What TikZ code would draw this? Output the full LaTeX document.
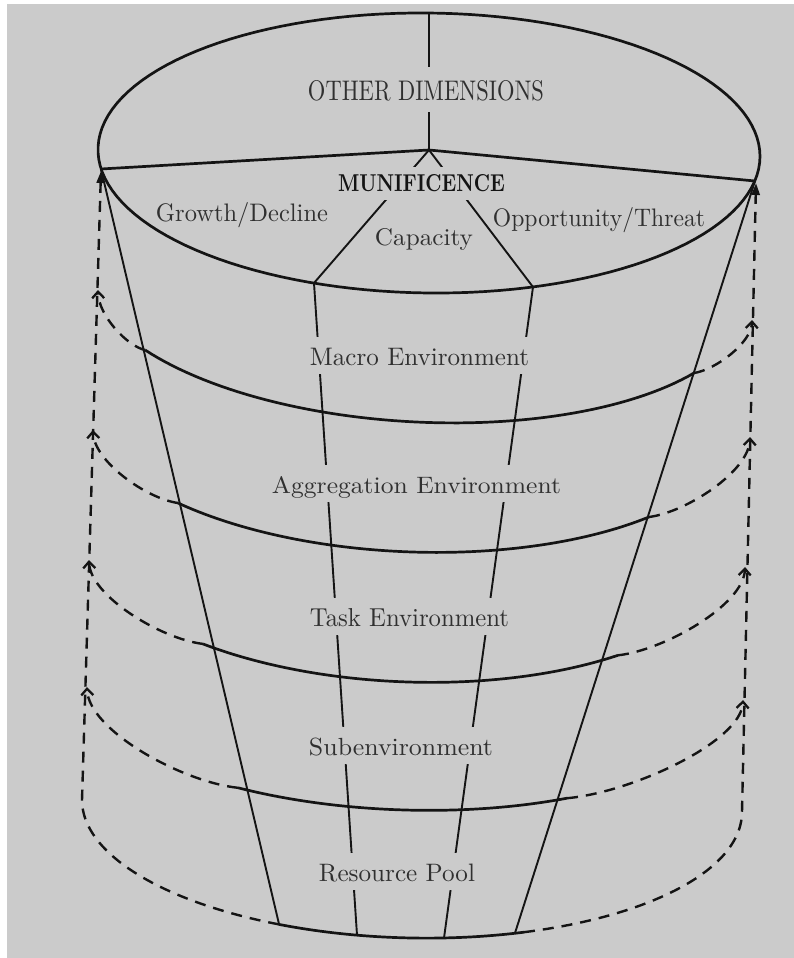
\documentclass[tikz,border=0pt]{standalone}
\usetikzlibrary{arrows.meta}
\definecolor{bg}{RGB}{203,203,203}
\definecolor{ink}{RGB}{20,20,20}
\definecolor{txt}{RGB}{48,48,48}
\newcommand{\fitto}[3]{\resizebox{#1pt}{#2pt}{#3}}
\begin{document}
\begin{tikzpicture}[x=1pt,y=-1pt,
  thickline/.style={draw=ink, line width=2.7pt},
  thinline/.style={draw=ink, line width=1.9pt},
  dashline/.style={draw=ink, line width=2.4pt, dash pattern=on 11pt off 8pt},
  wallarrow/.style={dashline, -{Triangle[length=12pt,width=8pt]}},
  layerarrow/.style={dashline, -{Straight Barb[length=6.5pt,width=12pt,line width=2.3pt]}},
  gaplbl/.style={text=txt, fill=bg, anchor=base, inner xsep=2pt, inner ysep=0pt,
                 text height=29pt, text depth=8.5pt},
  freelbl/.style={text=txt, anchor=base, inner sep=0pt},
]
% canvas
\useasboundingbox (0,0) rectangle (794,958);
\fill[white] (0,0) rectangle (794,958);
\fill[bg] (7,4) rectangle (794,958);

% key points
\coordinate (topc) at (429,13);
\coordinate (jn) at (429,150);
\coordinate (tl) at (101,169);
\coordinate (tr) at (755,181);
\coordinate (il) at (314,283);
\coordinate (ir) at (533,287);
\coordinate (bl) at (279,924);
\coordinate (br) at (515,933);
\coordinate (ilb) at (357,935);
\coordinate (irb) at (444,938);
\coordinate (wl) at (101,171);
\coordinate (wr) at (756,183);

% outer dashed walls and bottom
\draw[wallarrow] plot[domain=113.77:180, samples=50, variable=\t]
  ({412+330*cos(\t)}, {806+5.94*cos(\t)+132*sin(\t)}) -- (wl);
\draw[wallarrow] plot[domain=70.16:0, samples=50, variable=\t]
  ({412+330*cos(\t)}, {806+5.94*cos(\t)+132*sin(\t)}) -- (wr);

% solid bottom arc
\draw[thickline] plot[domain=70.16:113.77, samples=40, variable=\t]
  ({412+330*cos(\t)}, {806+5.94*cos(\t)+132*sin(\t)});

% layer arcs (solid)
\draw[thickline] plot[domain=33.24:145.8, samples=60, variable=\t]
  ({418+330*cos(\t)}, {285.7+14.98*cos(\t)+136.4*sin(\t)});
\draw[thickline] plot[domain=44.09:135.16, samples=60, variable=\t]
  ({412+330*cos(\t)}, {411.6+10.69*cos(\t)+140.4*sin(\t)});
\draw[thickline] plot[domain=50.47:128.4, samples=60, variable=\t]
  ({408+330*cos(\t)}, {536.1+10.43*cos(\t)+145.9*sin(\t)});
\draw[thickline] plot[domain=60.6:120.4, samples=60, variable=\t]
  ({405+330*cos(\t)}, {682.7+9.34*cos(\t)+127.3*sin(\t)});

% layer ends
\coordinate (fl1) at (145.1,350);   \coordinate (l1) at (98,290);
\coordinate (fl2) at (178,503);     \coordinate (l2) at (93,430);
\coordinate (fl3) at (203,643.9);   \coordinate (l3) at (89,560);
\coordinate (fl4) at (238,787.8);   \coordinate (l4) at (87,687);
\coordinate (fr1) at (694,373);     \coordinate (r1) at (752,320);
\coordinate (fr2) at (649,517);     \coordinate (r2) at (750,437);
\coordinate (fr3) at (618,655.3);   \coordinate (r3) at (745,567);
\coordinate (fr4) at (567,798.2);   \coordinate (r4) at (743,700);

% dashed continuations with arrowheads
\draw[layerarrow] (fl1) .. controls (127.6,346.4) and (98.5,315.8) .. (l1);
\draw[layerarrow] (fl2) .. controls (146.5,498.6) and (93.9,461.4) .. (l2);
\draw[layerarrow] (fl3) .. controls (160.8,638.9) and (90.1,595.7) .. (l3);
\draw[layerarrow] (fl4) .. controls (182.1,781.9) and (88.5,730.4) .. (l4);
\draw[layerarrow] (fr1) .. controls (715.5,369.8) and (751.4,342.8) .. (r1);
\draw[layerarrow] (fr2) .. controls (686.4,512.2) and (749,471.4) .. (r2);
\draw[layerarrow] (fr3) .. controls (665,650) and (743.7,604.8) .. (r3);
\draw[layerarrow] (fr4) .. controls (632.1,792.4) and (741.2,741.7) .. (r4);

% top face
\draw[thickline] plot[domain=0:360, samples=140, variable=\t]
  ({429+331*cos(\t)}, {153+3.31*cos(\t)+140*sin(\t)}) -- cycle;
\draw[thickline] (tl) -- (jn) -- (tr);
\draw[thinline] (topc) -- (jn);
\draw[thinline] (jn) -- (il);
\draw[thinline] (jn) -- (ir);

% funnel lines
\draw[thinline] (tl) -- (bl);
\draw[thinline] (tr) -- (br);
\draw[thinline] (il) -- (ilb);
\draw[thinline] (ir) -- (irb);

% labels
\node[gaplbl, text height=33pt, text depth=12pt] (other) at (426,100)
  {\fitto{236}{20}{OTHER DIMENSIONS}};
\node[gaplbl, text=ink, text height=24.5pt, text depth=8.5pt] (munif) at (421.5,191.5)
  {\fitto{167}{17}{\bfseries MUNIFICENCE}};
\node[freelbl] (growth) at (242,221.5) {\fitto{172}{19}{Growth/Decline}};
\node[freelbl] (capacity) at (424,245) {\fitto{98}{17}{Capacity}};
\node[freelbl] (opport) at (599,226.5) {\fitto{212}{19}{Opportunity/Threat}};
\node[gaplbl] (macro) at (419.5,365.5) {\fitto{219}{17.3}{Macro Environment}};
\node[gaplbl] (aggr) at (416.5,493.5) {\fitto{289}{17}{Aggregation Environment}};
\node[gaplbl] (task) at (409.5,626.5) {\fitto{199}{18}{Task Environment}};
\node[gaplbl] (subenv) at (401,755.5) {\fitto{184}{17.5}{Subenvironment}};
\node[gaplbl] (pool) at (397,881.5) {\fitto{156}{17.5}{Resource Pool}};
\end{tikzpicture}
\end{document}
